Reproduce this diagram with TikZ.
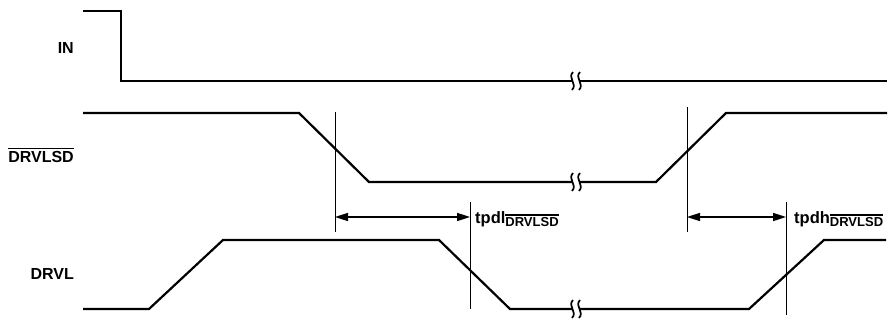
\documentclass[tikz,border=0pt]{standalone}
\usepackage{fontspec}
\setmainfont{Liberation Sans}
\usetikzlibrary{arrows.meta}
\newcommand\barred[1]{\leavevmode\vbox{\hrule height 1.3pt\kern 1.8pt\hbox{#1}}}
\tikzset{
  signal/.style={line width=2.2pt,line join=miter},
  marker/.style={line width=1pt},
  dim/.style={line width=1.6pt,{Triangle[length=13pt,width=8pt]}-{Triangle[length=13pt,width=8pt]}},
  sig label/.style={anchor=base east,inner sep=0pt,font=\fontsize{16}{18}\selectfont\bfseries},
  time label/.style={anchor=base west,inner sep=0pt,font=\fontsize{16.5}{18}\selectfont\bfseries}
}
\newcommand\subbar{\raisebox{-3.5pt}{\fontsize{13}{13}\selectfont\bfseries\barred{DRVLSD}}}
\begin{document}
\begin{tikzpicture}[x=1pt,y=-1pt]
  \useasboundingbox (0,0) rectangle (894,321);
  % Signal names
  \node [sig label] (in)     at (74,54)  {IN};
  \node [sig label] (drvlsd) at (74,162) {\barred{DRVLSD}};
  \node [sig label] (drvl)   at (74,279) {DRVL};

  % Waveforms
  \draw [signal] (83,11) -- (121,11) -- (121,81) -- (887,81);
  \draw [signal] (83,113) -- (299,113) -- (369,182) -- (656,182) -- (726,113) -- (887,113);
  \draw [signal] (83,309) -- (149,309) -- (223,240) -- (439,240) -- (510,309)
        -- (749,309) -- (824,240) -- (886,240);

  % Breaks
  \foreach \y in {81,182,309} {
    \fill [white] (572,\y-5) rectangle (579,\y+5);
    \draw [line width=1.7pt] (573,\y-9) .. controls (567,\y-3) and (578,\y+3) .. (572,\y+9);
    \draw [line width=1.7pt] (580,\y-9) .. controls (574,\y-3) and (585,\y+3) .. (579,\y+9);
  }

  % Timing markers
  \coordinate (m1t) at (335,112); \coordinate (m1b) at (335,232);
  \coordinate (m2t) at (470,202); \coordinate (m2b) at (470,309);
  \coordinate (m3t) at (687,107); \coordinate (m3b) at (687,232);
  \coordinate (m4t) at (786,202); \coordinate (m4b) at (786,315);
  \foreach \m in {m1,m2,m3,m4}
    \draw [marker] (\m t) -- (\m b);

  \coordinate (a1) at (335,217); \coordinate (a2) at (470,217);
  \coordinate (a3) at (687,217); \coordinate (a4) at (786,217);
  \draw [dim] (a1) -- (a2);
  \draw [dim] (a3) -- (a4);
  \node [time label] (tpdl) at (475,223) {tpdl\subbar};
  \node [time label] (tpdh) at (794,223) {tpdh\subbar};
\end{tikzpicture}
\end{document}
